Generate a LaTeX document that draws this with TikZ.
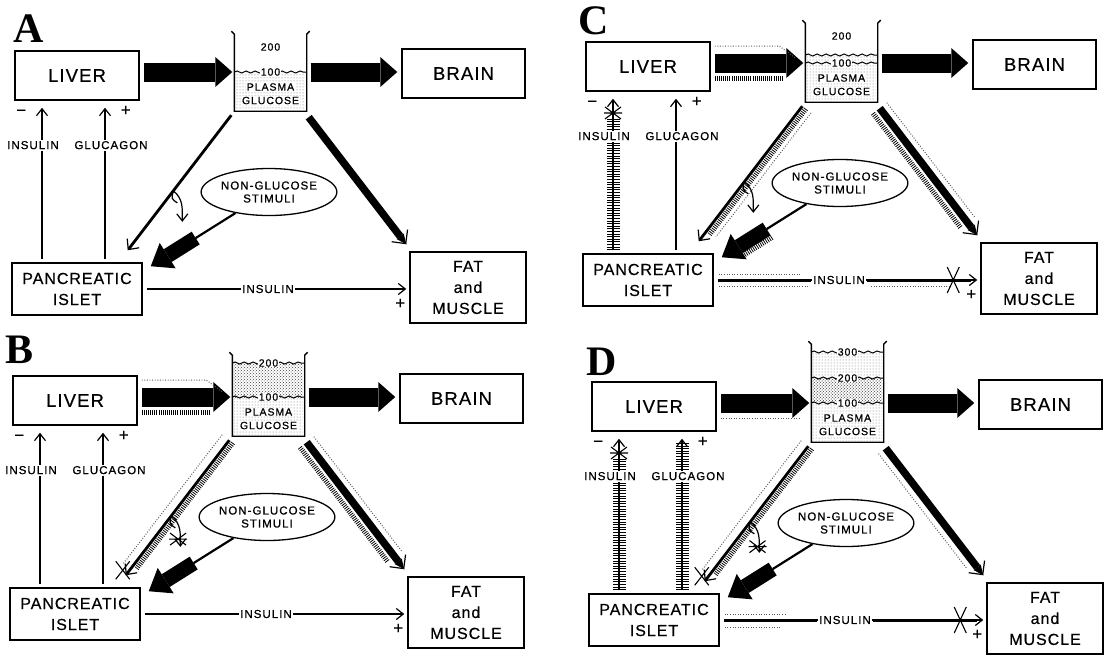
\documentclass[tikz,border=0pt]{standalone}
\usepackage{fontspec}
\usetikzlibrary{arrows.meta,calc,shapes.geometric,patterns,decorations.pathmorphing}
\newfontfamily\boxfont[LetterSpace=6, FakeBold=0.5]{Liberation Sans}
\newfontfamily\labfont[LetterSpace=9, FakeBold=0.8]{Liberation Sans}
\newfontfamily\panfont{Liberation Serif}

\newcommand{\glupanel}[2]{%
  \node[bigbox] (#1-liver) at (77,75.5) {LIVER};
  \node[bigbox, minimum width=123pt] (#1-brain) at (463.5,73.5) {BRAIN};
  \node[smallbox, minimum width=130pt, minimum height=52pt] (#1-panc) at (77,289) {PANCREATIC\\ISLET};
  \node[smallbox, minimum width=116pt, minimum height=71pt] (#1-fat) at (468,287.5) {FAT\\and\\MUSCLE};
  \node[stimbox] (#1-stim) at (269,192) {NON-GLUCOSE\\STIMULI};
  \node[minimum width=72pt, minimum height=78pt, inner sep=0pt] (#1-beaker) at (270.5,72) {};
  \draw[line width=1.4pt] ($(#1-beaker.south west)+(-3,-#2-3)$) -- ++(3,3) -- (#1-beaker.south west)
    -- (#1-beaker.south east) -- ++(0,-#2) -- ++(3,-3);
  \coordinate (#1-dl1) at ($(#1-beaker.south west)+(-3,4)$);
  \coordinate (#1-dl2) at ($(#1-panc.north east)+(-15,-12)$);
  \coordinate (#1-dr1) at ($(#1-beaker.south east)+(2,6)$);
  \coordinate (#1-dr2) at ($(#1-fat.north west)+(-3,-7)$);
  \coordinate (#1-br1) at ($(#1-dl1)!.56!(#1-dl2)$);
  \coordinate (#1-br2) at ($(#1-br1)+(9,31)$);
  \coordinate (#1-tip) at ($(#1-panc.north east)+(8,4)$);
  \coordinate (#1-kink) at ($(#1-stim)!.62!(#1-tip)$);
  \coordinate (#1-ins) at ($(#1-panc.north)+(-35,-3)$);
  \coordinate (#1-glu) at ($(#1-panc.north)+(28,-3)$);
  \draw[fatarrow, shorten <=4pt, shorten >=2pt] (#1-liver.east |- #1-beaker.west) -- (#1-beaker.west);
  \draw[fatarrow, shorten <=4pt, shorten >=4pt] (#1-beaker.east) -- (#1-beaker.east -| #1-brain.west);
  \draw[diag] (#1-dl1) -- (#1-dl2);
  \draw[thinarrow] (#1-br1) .. controls +(10,8) and +(0,-14) .. (#1-br2);
  \draw[line width=1.2pt] (#1-br1) .. controls +(-2,8) .. ($(#1-br1)+(4,12)$);
  \draw[line width=2.2pt] (#1-stim) -- (#1-kink);
  \draw[stimarrow] (#1-kink) -- (#1-tip);
  \draw[heavy] (#1-dr1) -- (#1-dr2);
  \draw[barbtip] ($(#1-dr2)!14pt!(#1-dr1)$) -- (#1-dr2);
  \draw[thinarrow, shorten >=7pt] (#1-ins) -- (#1-ins |- #1-liver.south)
    node[lab, pos=.72, xshift=-9pt] (#1-vins) {INSULIN};
  \draw[thinarrow, shorten >=7pt] (#1-glu) -- (#1-glu |- #1-liver.south)
    node[lab, pos=.72, xshift=6pt] (#1-vglu) {GLUCAGON};
  \draw[thinarrow, shorten <=4pt, shorten >=3pt] (#1-panc.east) -- (#1-panc.east -| #1-fat.west)
    node[lab, pos=.47] (#1-hins) {INSULIN};
  \node[sign] (#1-m1) at ($(#1-liver.south west)+(7,12)$) {−};
  \node[sign] (#1-p1) at ($(#1-liver.south east)+(-14,10)$) {+};
  \node[sign] (#1-p2) at ($(#1-fat.south west)+(-9,-20)$) {+};
}
\newcommand{\beakertxt}[1]{%
  \draw[wave] (#1-beaker.west) -- (#1-beaker.east);
  \node[gtxt] (#1-l100) at (#1-beaker.center) {100};
  \node[gtxt] (#1-pl) at ($(#1-beaker.center)+(0,15)$) {PLASMA};
  \node[gtxt] (#1-gl) at ($(#1-beaker.center)+(0,28.5)$) {GLUCOSE};
}

\begin{document}
\begin{tikzpicture}[x=1pt, y=-1pt,
    bigbox/.style={draw, line width=1.5pt, minimum width=124pt, minimum height=49pt, inner sep=2pt, font=\boxfont\fontsize{18.5}{21}\selectfont},
    smallbox/.style={draw, line width=1.5pt, align=center, inner sep=2pt, font=\boxfont\fontsize{16}{21}\selectfont},
    stimbox/.style={ellipse, draw, line width=1.3pt, minimum width=103pt, minimum height=47pt, inner sep=0pt, align=center, font=\labfont\fontsize{11.5}{13}\selectfont},
    lab/.style={fill=white, inner sep=1.5pt, font=\labfont\fontsize{11.5}{12}\selectfont},
    gtxt/.style={fill=white, inner sep=.6pt, font=\labfont\fontsize{10.5}{11}\selectfont},
    sign/.style={inner sep=0pt, font=\labfont\fontsize{17}{17}\selectfont},
    panlab/.style={inner sep=0pt, font=\panfont\fontsize{42}{42}\selectfont\bfseries},
    fatarrow/.style={line width=19pt, -{Triangle[length=17pt, width=30pt, line width=0pt]}},
    stimarrow/.style={line width=15pt, -{Triangle[length=20pt, width=30pt, line width=0pt]}},
    heavy/.style={line width=7.5pt, -{Triangle[length=10pt, width=9pt, line width=0pt]}},
    diag/.style={line width=2.8pt, -{Straight Barb[length=8pt, width=15pt, line width=1.2pt]}},
    thinarrow/.style={line width=1.2pt, -{Straight Barb[length=7pt, width=11pt]}},
    barbtip/.style={line width=1.2pt, -{Straight Barb[length=10pt, width=20pt]}},
    comb/.style={line width=5pt, dash pattern=on .8pt off 1.3pt},
    ladder/.style={line width=13pt, dash pattern=on 1pt off 1.6pt, postaction={draw, solid, line width=2.4pt}},
    dotln/.style={line width=1pt, dash pattern=on .9pt off 1.7pt, black!65},
    dotfill/.style={pattern=dots, pattern color=black!55},
    densefill/.style={pattern=crosshatch dots, pattern color=black!75},
    wave/.style={decorate, decoration={snake, segment length=9pt, amplitude=1pt}, line width=1pt},
    xcross/.pic={\draw[line width=1.1pt] (-7,-9) -- (7,9) (-7,9) -- (7,-9);},
    tallx/.pic={\draw[line width=1.1pt] (-6,-13) -- (6,13) (-6,13) -- (6,-13);},
    astk/.pic={\draw[line width=1.1pt] (-8,-6) -- (8,6) (-8,6) -- (8,-6) (-9,0) -- (9,0);}
  ]
  \fill[white] (0,0) rectangle (1111,654);
  \useasboundingbox (0,0) rectangle (1111,654);

  \node[panlab] (labA) at (29,29) {A};
  \node[panlab] (labB) at (20,350) {B};
  \node[panlab] (labC) at (594,21) {C};
  \node[panlab] (labD) at (602,362) {D};

  \begin{scope}
    \glupanel{A}{77}
    \fill[dotfill] ($(A-beaker.south west)+(1.5,-1.5)$) rectangle ($(A-beaker.east)+(-1.5,0)$);
    \beakertxt{A}
    \node[gtxt, fill=none] (A-l200) at ($(A-beaker.center)+(0,-25)$) {200};
  \end{scope}

  \begin{scope}[shift={(-2,325)}]
    \glupanel{B}{81}
    \fill[dotfill] ($(B-beaker.south west)+(1.5,-1.5)$) rectangle ($(B-beaker.east)+(-1.5,0)$);
    \fill[densefill] ($(B-beaker.west)+(1.5,0)$) rectangle ($(B-beaker.east)+(-1.5,-34)$);
    \draw[wave] ($(B-beaker.west)+(0,-34)$) -- ($(B-beaker.east)+(0,-34)$);
    \node[gtxt] (B-l200) at ($(B-beaker.center)+(0,-34)$) {200};
    \beakertxt{B}
    \draw[dotln] ($(B-liver.east |- B-beaker.west)+(4,-17)$) -- ($(B-beaker.west)+(-26,-17)$) -- ($(B-beaker.west)+(-10,-5)$);
    \draw[comb] ($(B-liver.east |- B-beaker.west)+(4,15)$) -- ($(B-beaker.west)+(-22,15)$);
    \draw[comb, shorten >=12pt] ($(B-dl1)!4.5pt!90:(B-dl2)$) -- ($(B-dl2)!4.5pt!-90:(B-dl1)$);
    \draw[dotln, shorten >=8pt] ($(B-dl1)!9pt!-90:(B-dl2)$) -- ($(B-dl2)!9pt!90:(B-dl1)$);
    \draw[comb, shorten >=16pt] ($(B-dr1)!8.5pt!-90:(B-dr2)$) -- ($(B-dr2)!8.5pt!90:(B-dr1)$);
    \draw[dotln, shorten >=16pt] ($(B-dr1)!9pt!90:(B-dr2)$) -- ($(B-dr2)!9pt!-90:(B-dr1)$);
    \pic at ($(B-dl2)+(-3,-5)$) {xcross};
    \pic at ($(B-br1)!.75!(B-br2)$) {astk};
  \end{scope}

  \begin{scope}[shift={(571,-9)}]
    \glupanel{C}{79}
    \fill[dotfill] ($(C-beaker.south west)+(1.5,-1.5)$) rectangle ($(C-beaker.east)+(-1.5,-8)$);
    \draw[wave] ($(C-beaker.west)+(0,-8)$) -- ($(C-beaker.east)+(0,-8)$);
    \beakertxt{C}
    \node[gtxt, fill=none] (C-l200) at ($(C-beaker.center)+(0,-27)$) {200};
    \draw[dotln] ($(C-liver.east |- C-beaker.west)+(4,-17)$) -- ($(C-beaker.west)+(-26,-17)$) -- ($(C-beaker.west)+(-10,-5)$);
    \draw[comb] ($(C-liver.east |- C-beaker.west)+(4,15)$) -- ($(C-beaker.west)+(-22,15)$);
    \draw[ladder] (C-ins) -- (C-ins |- C-vins.south);
    \draw[ladder] (C-ins |- C-vins.north) -- ++(0,-11);
    \pic at ($(C-ins |- C-vins.north)+(0,-17)$) {astk};
    \draw[comb, shorten >=12pt] ($(C-dl1)!4.5pt!90:(C-dl2)$) -- ($(C-dl2)!4.5pt!-90:(C-dl1)$);
    \draw[dotln, shorten >=14pt] ($(C-dl1)!11pt!90:(C-dl2)$) -- ($(C-dl2)!11pt!-90:(C-dl1)$);
    \draw[comb, shorten >=18pt] ($(C-kink)!10pt!90:(C-tip)$) -- ($(C-tip)!10pt!-90:(C-kink)$);
    \draw[comb, shorten >=16pt] ($(C-dr1)!8.5pt!-90:(C-dr2)$) -- ($(C-dr2)!8.5pt!90:(C-dr1)$);
    \draw[dotln, shorten >=16pt] ($(C-dr1)!9pt!90:(C-dr2)$) -- ($(C-dr2)!9pt!-90:(C-dr1)$);
    \draw[line width=3pt] ($(C-panc.east)+(4,0)$) -- (C-hins.west);
    \draw[line width=3pt, shorten >=9pt] (C-hins.east) -- (C-hins.east -| C-fat.west);
    \draw[dotln] ($(C-panc.east)+(5,-6)$) -- ($(C-panc.east)+(87,-6)$);
    \draw[dotln] ($(C-panc.east)+(5,6)$) -- ($(C-hins.west)+(-2,6)$);
    \draw[dotln] ($(C-hins.east)+(4,6)$) -- ($(C-hins.east -| C-fat.west)+(-30,6)$);
    \pic at ($(C-hins.east -| C-fat.west)+(-27,0)$) {tallx};
  \end{scope}

  \begin{scope}[shift={(577,331)}]
    \glupanel{D}{98}
    \fill[dotfill] ($(D-beaker.south west)+(1.5,-1.5)$) rectangle ($(D-beaker.east)+(-1.5,-51)$);
    \fill[densefill] ($(D-beaker.west)+(1.5,-2)$) rectangle ($(D-beaker.east)+(-1.5,-25)$);
    \draw[wave] ($(D-beaker.west)+(0,-51)$) -- ($(D-beaker.east)+(0,-51)$);
    \draw[wave] ($(D-beaker.west)+(0,-25)$) -- ($(D-beaker.east)+(0,-25)$);
    \node[gtxt] (D-l300) at ($(D-beaker.center)+(0,-51)$) {300};
    \node[gtxt] (D-l200) at ($(D-beaker.center)+(0,-25)$) {200};
    \beakertxt{D}
    \draw[dotln] ($(D-liver.east |- D-beaker.west)+(4,15)$) -- ($(D-beaker.west)+(-12,15)$);
    \draw[ladder] (D-ins) -- (D-ins |- D-vins.south);
    \draw[ladder] (D-ins |- D-vins.north) -- ++(0,-11);
    \pic at ($(D-ins |- D-vins.north)+(0,-17)$) {astk};
    \draw[ladder] (D-glu) -- (D-glu |- D-vglu.south);
    \draw[ladder] (D-glu |- D-vglu.north) -- ++(0,-27);
    \draw[comb, shorten >=12pt] ($(D-dl1)!4.5pt!90:(D-dl2)$) -- ($(D-dl2)!4.5pt!-90:(D-dl1)$);
    \draw[dotln, shorten >=8pt] ($(D-dl1)!9pt!-90:(D-dl2)$) -- ($(D-dl2)!9pt!90:(D-dl1)$);
    \draw[dotln, shorten >=16pt] ($(D-dr1)!9pt!-90:(D-dr2)$) -- ($(D-dr2)!9pt!90:(D-dr1)$);
    \pic at ($(D-dl2)+(-3,-5)$) {xcross};
    \pic at ($(D-br1)!.8!(D-br2)$) {astk};
    \draw[line width=3pt] ($(D-panc.east)+(4,0)$) -- (D-hins.west);
    \draw[line width=3pt, shorten >=9pt] (D-hins.east) -- (D-hins.east -| D-fat.west);
    \draw[dotln] ($(D-panc.east)+(5,-6)$) -- ($(D-panc.east)+(67,-6)$);
    \draw[dotln] ($(D-panc.east)+(5,7)$) -- ($(D-panc.east)+(62,7)$);
    \pic at ($(D-hins.east -| D-fat.west)+(-26,0)$) {tallx};
  \end{scope}
\end{tikzpicture}
\end{document}
